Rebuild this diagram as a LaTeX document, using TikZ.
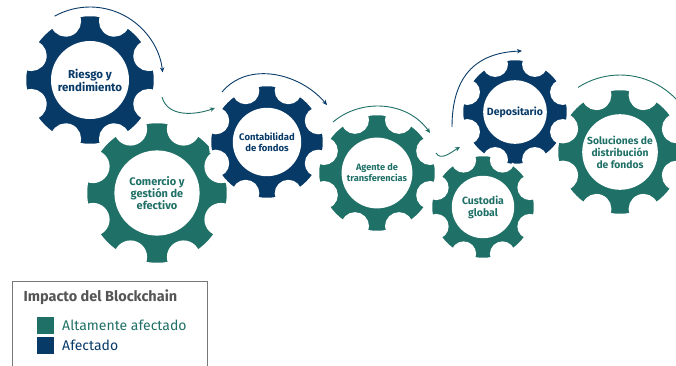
\documentclass[tikz,border=0pt]{standalone}
\usepackage{fontspec}
\setmainfont{Fira Sans}
\usepackage{tikz}
\usetikzlibrary{arrows.meta, calc, positioning}
\definecolor{gearblue}{RGB}{8, 58, 104}
\definecolor{gearteal}{RGB}{31, 112, 102}
\definecolor{legendgray}{RGB}{85, 85, 85}

\tikzset{
    geartext/.style={align=center, font=\bfseries},
    flow/.style={-{Stealth[length=5pt, width=4.5pt]}, line width=0.9pt},
    keybox/.style={minimum size=17pt, inner sep=0pt},
    keytext/.style={right=5pt, font=\fontsize{14}{16}\selectfont}
}

% gear: [text style]{name}{centre}{radius}{colour}{text}
\newcommand{\drawgear}[6][]{%
    \fill[#5, draw=white, line width=2.5pt]
        ($(#3)+(-10:#4)$)
        \foreach \a in {0,45,...,315} {
            arc[start angle=\a-10, end angle=\a+10, radius=#4]
            arc[start angle=\a-67.5, end angle=\a-247.5, radius=0.2164*#4]
        } -- cycle;
    \fill[white] (#3) circle[radius=0.6*#4];
    \node[geartext, text=#5, #1] (#2) at (#3) {#6};
}

\begin{document}
\begin{tikzpicture}[x=1pt, y=1pt]
    \useasboundingbox (0,0) rectangle (676,365);

    % Gears
    \drawgear[font=\bfseries\fontsize{11.5}{13}\selectfont]{risk}{90,285}{65}{gearblue}{Riesgo y\\rendimiento}
    \drawgear[font=\bfseries\fontsize{11}{12}\selectfont]{trade}{157,172}{71}{gearteal}{Comercio y\\gestión de\\efectivo}
    \drawgear[font=\bfseries\fontsize{9.5}{11}\selectfont]{account}{267,223}{57}{gearblue}{Contabilidad\\de fondos}
    \drawgear[font=\bfseries\fontsize{9.2}{11}\selectfont]{agent}{377,192}{59}{gearteal}{Agente de\\transferencias}
    \drawgear[font=\bfseries\fontsize{10.5}{12}\selectfont]{deposit}{515,253}{53}{gearblue}{Depositario}
    \drawgear[font=\bfseries\fontsize{10.5}{12}\selectfont]{custody}{483,158}{52}{gearteal}{Custodia\\global}
    \drawgear[font=\bfseries\fontsize{10.3}{12}\selectfont]{distrib}{620,213}{63}{gearteal}{Soluciones de\\distribución\\de fondos}

    % Flow arrows
    \coordinate (a1s) at ($(risk)+(119:73)$);
    \draw[flow, gearblue] (a1s) arc[start angle=119, end angle=6, radius=73];
    \coordinate (a2s) at (162,268);
    \coordinate (a2e) at (215,257);
    \draw[flow, gearteal] (a2s) to[out=-75, in=200] (a2e);
    \coordinate (a3s) at (222,273);
    \coordinate (a3e) at (327,260);
    \draw[flow, gearblue] (a3s) to[out=50, in=130] (a3e);
    \coordinate (a4s) at (333,243);
    \coordinate (a4e) at (430,232);
    \draw[flow, gearteal] (a4s) to[out=40, in=125] (a4e);
    \coordinate (a5s) at (436,212);
    \coordinate (a5e) at (460,218);
    \draw[flow, gearteal] (a5s) to[out=-60, in=210] (a5e);
    \coordinate (a6s) at (452,238);
    \coordinate (a6e) at (522,314);
    \draw[flow, gearblue] (a6s) to[out=90, in=182, looseness=1.2] (a6e);
    \coordinate (a7s) at ($(distrib)+(123:77)$);
    \draw[flow, gearteal] (a7s) arc[start angle=123, end angle=15, radius=77];

    % Legend
    \draw[legendgray!80, line width=1pt] (12,84) rectangle (207,-10);
    \node[anchor=west, text=legendgray, font=\bfseries\fontsize{14.5}{16}\selectfont] (legtitle) at (20,68) {Impacto del Blockchain};
    \node[keybox, fill=gearteal] (keyhigh) at (45,40) {};
    \node[keybox, fill=gearblue] (keylow) at (45,19.5) {};
    \node[keytext, text=gearteal] at (keyhigh.east) {Altamente afectado};
    \node[keytext, text=gearblue] at (keylow.east) {Afectado};
\end{tikzpicture}
\end{document}
